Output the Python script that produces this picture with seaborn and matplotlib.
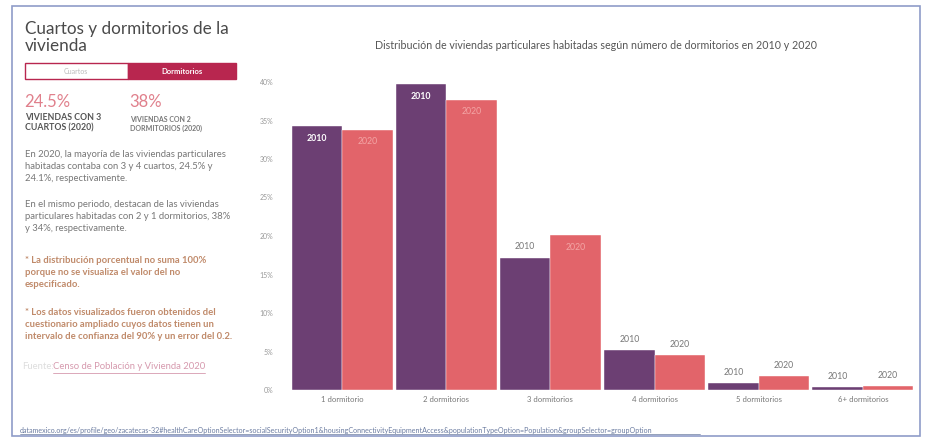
import matplotlib
matplotlib.use("Agg")
import matplotlib.pyplot as plt
import seaborn as sns
import pandas as pd
from matplotlib.patches import Rectangle

# Datos (porcentaje de viviendas)
categorias = ["1 dormitorio", "2 dormitorios", "3 dormitorios",
              "4 dormitorios", "5 dormitorios", "6+ dormitorios"]
valores_2010 = [34.3, 39.7, 17.2, 5.2, 0.9, 0.4]
valores_2020 = [33.8, 37.7, 20.1, 4.5, 1.8, 0.5]
anios = ["2010", "2020"]
yticks = [0, 5, 10, 15, 20, 25, 30, 35, 40]

PURPLE = "#6c3f73"
CORAL = "#e2646a"
CRIMSON = "#b8264f"

df = pd.DataFrame({
    "categoria": categorias * 2,
    "porcentaje": valores_2010 + valores_2020,
    "anio": [anios[0]] * len(categorias) + [anios[1]] * len(categorias),
})

sns.set_theme(style="white")
plt.rcParams['font.family'] = ['Lato', 'DejaVu Sans']

W, H = 930, 444
fig = plt.figure(figsize=(W / 100, H / 100), dpi=100)


def fx(x):
    return x / W


def fy(y):
    return 1 - y / H


# outer frame
fig.patches.append(Rectangle((fx(12), fy(436)), fx(908), 430 / H, transform=fig.transFigure,
                             fill=False, edgecolor="#8f9cc8", lw=1.2))

# ---- left panel ----
fig.text(fx(25), fy(21), "Cuartos y dormitorios de la\nvivienda", va="top", ha="left",
         fontsize=12.3, color="#4a4a4a", linespacing=1.1)

fig.patches.append(Rectangle((fx(25), fy(79)), fx(103), 16 / H, transform=fig.transFigure,
                             facecolor="white", edgecolor=CRIMSON, lw=1))
fig.patches.append(Rectangle((fx(128), fy(79)), fx(108), 16 / H, transform=fig.transFigure,
                             facecolor=CRIMSON, edgecolor=CRIMSON, lw=1))
fig.text(fx(76), fy(71), "Cuartos", ha="center", va="center", fontsize=5, color="#bbbbbb")
fig.text(fx(182), fy(71), "Dormitorios", ha="center", va="center", fontsize=5.5,
         color="white", fontweight="bold")

fig.text(fx(24), fy(94), "24.5%", va="top", fontsize=12, color="#e0808c")
fig.text(fx(129), fy(94), "38%", va="top", fontsize=12, color="#e0808c")
fig.text(fx(25), fy(113), "VIVIENDAS CON 3\nCUARTOS (2020)", va="top", fontsize=6.3,
         color="#555555", fontweight="bold", linespacing=1.2)
fig.text(fx(130), fy(116), "VIVIENDAS CON 2\nDORMITORIOS (2020)", va="top", fontsize=5,
         color="#777777", fontweight="bold", linespacing=1.25)

fig.text(fx(25), fy(150), "En 2020, la mayoría de las viviendas particulares\n"
         "habitadas contaba con 3 y 4 cuartos, 24.5% y\n24.1%, respectivamente.",
         va="top", fontsize=6.8, color="#777777", linespacing=1.45)
fig.text(fx(25), fy(200), "En el mismo periodo, destacan de las viviendas\n"
         "particulares habitadas con 2 y 1 dormitorios, 38%\ny 34%, respectivamente.",
         va="top", fontsize=6.8, color="#777777", linespacing=1.45)

fig.text(fx(25), fy(256), "* La distribución porcentual no suma 100%\n"
         "porque no se visualiza el valor del no\nespecificado.",
         va="top", fontsize=6.8, color="#c08a6a", fontweight="bold", linespacing=1.45)
fig.text(fx(25), fy(308), "* Los datos visualizados fueron obtenidos del\n"
         "cuestionario ampliado cuyos datos tienen un\n"
         "intervalo de confianza del 90% y un error del 0.2.",
         va="top", fontsize=6.8, color="#c08a6a", fontweight="bold", linespacing=1.45)

fig.text(fx(22), fy(362), "Fuente:", va="top", fontsize=6.8, color="#dddddd")
fig.text(fx(53), fy(362), "Censo de Población y Vivienda 2020", va="top", fontsize=6.8,
         color="#d69aae")
fig.add_artist(plt.Line2D([fx(53), fx(205)], [fy(373), fy(373)], transform=fig.transFigure,
                          color="#d69aae", lw=0.6))

# url at bottom
url = ("datamexico.org/es/profile/geo/zacatecas-32#healthCareOptionSelector=socialSecurityOption1"
       "&housingConnectivityEquipmentAccess&populationTypeOption=Population&groupSelector=groupOption")
fig.text(fx(20), fy(427), url, va="top", fontsize=5.1, color="#6a7ba0")
fig.add_artist(plt.Line2D([fx(20), fx(700)], [fy(434), fy(434)], transform=fig.transFigure,
                          color="#6a7ba0", lw=0.5))

# ---- chart ----
fig.text(fx(596), fy(40), "Distribución de viviendas particulares habitadas según número de "
         "dormitorios en 2010 y 2020", ha="center", va="top", fontsize=7.7, color="#555555")

ax = fig.add_axes([fx(290), fy(390), fx(625), 308 / H])
sns.barplot(data=df, x="categoria", y="porcentaje", hue="anio", palette=[PURPLE, CORAL],
            width=0.97, gap=0.0, saturation=1, legend=False, ax=ax,
            edgecolor="white", linewidth=0.3)

for i, cont in enumerate(ax.containers):
    for bar in cont:
        h = bar.get_height()
        xc = bar.get_x() + bar.get_width() / 2
        if h > 19:
            if i == 0:
                ax.text(xc, h - 1.0, anios[i], ha="center", va="top", fontsize=6.3,
                        color="white", fontweight="bold")
            else:
                ax.text(xc, h - 1.0, anios[i], ha="center", va="top", fontsize=6.3,
                        color="#f3a5a5")
        else:
            ax.text(xc, h + 0.8, anios[i], ha="center", va="bottom", fontsize=6.3,
                    color="#777777")

ax.set_ylim(0, 40)
ax.set_xlim(-0.5, len(categorias) - 0.5)
ax.set_yticks(yticks)
ax.set_yticklabels([f"{v}%" for v in yticks], fontsize=5, color="#999999")
ax.tick_params(axis="x", labelsize=5.6, labelcolor="#777777", length=0, pad=4)
ax.tick_params(axis="y", length=0, pad=12)
ax.set_xlabel("")
ax.set_ylabel("")
sns.despine(ax=ax, left=True, bottom=True)

fig.savefig("out.png", dpi=100)
